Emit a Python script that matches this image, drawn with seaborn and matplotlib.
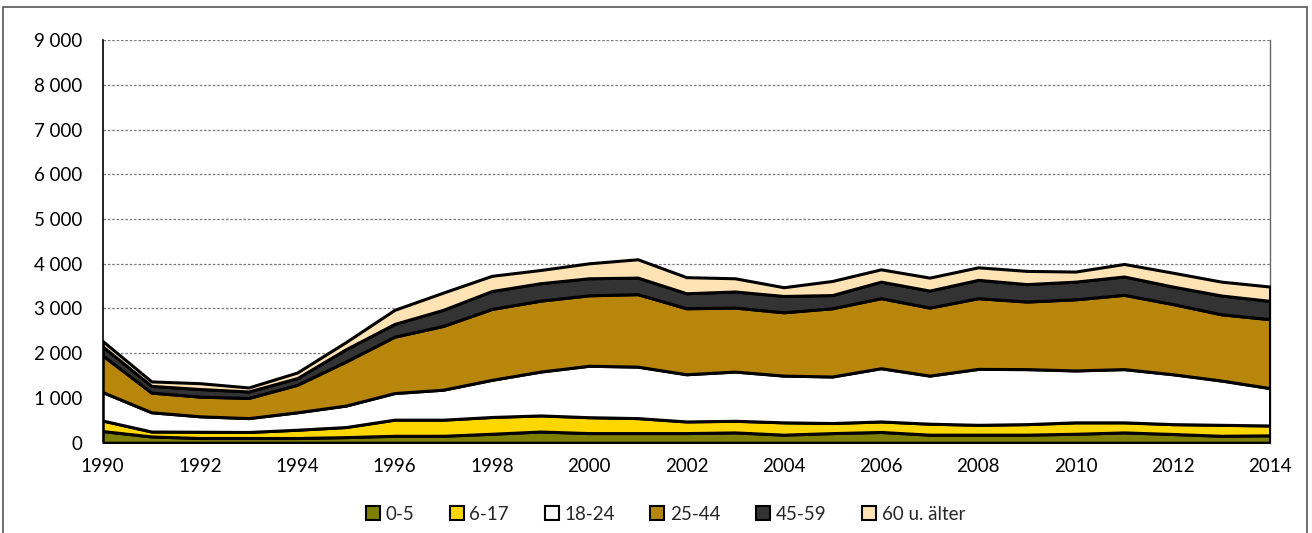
import matplotlib
matplotlib.use("Agg")
import matplotlib.pyplot as plt
import matplotlib.ticker as mticker
from matplotlib.patches import Rectangle
import seaborn as sns
import numpy as np

years = list(range(1990, 2015))
age_0_5 = [260, 140, 105, 105, 105, 125, 155, 155, 200, 250, 215, 215, 215, 230, 180, 215, 240, 180, 180, 180, 200, 230, 195, 155, 165]
age_6_17 = [235, 110, 140, 135, 185, 225, 360, 360, 375, 360, 355, 335, 260, 260, 275, 225, 235, 245, 220, 235, 255, 225, 220, 245, 220]
age_18_24 = [635, 430, 345, 310, 390, 480, 595, 670, 830, 980, 1150, 1150, 1055, 1100, 1045, 1040, 1190, 1075, 1250, 1230, 1160, 1190, 1115, 990, 835]
age_25_44 = [820, 440, 440, 450, 615, 985, 1260, 1425, 1585, 1585, 1575, 1620, 1475, 1430, 1415, 1525, 1565, 1520, 1580, 1510, 1590, 1660, 1570, 1480, 1540]
age_45_59 = [200, 150, 170, 145, 150, 275, 285, 360, 400, 390, 380, 370, 335, 360, 365, 295, 370, 380, 410, 390, 395, 410, 390, 420, 410]
age_60 = [120, 100, 130, 90, 125, 160, 315, 385, 340, 295, 335, 410, 360, 295, 195, 315, 275, 290, 280, 295, 225, 280, 310, 310, 320]

series_labels = ["0-5", "6-17", "18-24", "25-44", "45-59", "60 u. älter"]
series_colors = ["#808000", "#FFD700", "#FFFFFF", "#B8860B", "#333333", "#FFE3B5"]

sns.set_theme(style="white")
plt.rcParams["font.family"] = ["Lato", "DejaVu Sans"]

fig = plt.figure(figsize=(13.12, 5.33), dpi=100)
ax = fig.add_axes([0.0783, 0.1694, 0.8897, 0.7555])

# outer border
fig.patches.append(Rectangle((3 / 1312, -0.02), (1307 - 3) / 1312, 1.02 - 7 / 533,
                             transform=fig.transFigure, fill=False,
                             edgecolor="#555555", linewidth=1.2))

polys = ax.stackplot(years, age_0_5, age_6_17, age_18_24, age_25_44, age_45_59, age_60,
                     colors=series_colors, labels=series_labels,
                     edgecolor="black", linewidth=2.2, zorder=3)

ax.set_xlim(1990, 2014)
ax.set_ylim(0, 9000)

ax.set_yticks(np.arange(0, 9001, 1000))
ax.yaxis.set_major_formatter(mticker.FuncFormatter(lambda v, p: f"{int(v):,}".replace(",", " ")))
ax.set_xticks(years)
ax.set_xticklabels([str(y) if y % 2 == 0 else "" for y in years])

ax.grid(axis="y", color="#777777", linestyle=(0, (2, 1.5)), linewidth=0.9, zorder=0)
ax.grid(axis="x", visible=False)
ax.set_axisbelow(True)

ax.spines["top"].set_visible(False)
ax.spines["left"].set_color("black")
ax.spines["left"].set_linewidth(1.2)
ax.spines["bottom"].set_color("#888888")
ax.spines["bottom"].set_linewidth(1.2)
ax.spines["right"].set_color("#666666")
ax.spines["right"].set_linewidth(1.0)

ax.tick_params(axis="both", which="major", direction="out", length=5, width=1,
               color="#888888", labelsize=13.5, labelcolor="black")
ax.tick_params(axis="x", pad=6)
ax.tick_params(axis="y", pad=10)

leg = ax.legend(loc="upper center", bbox_to_anchor=(0.482, -0.115), ncol=6, frameon=False,
                fontsize=13.5, handlelength=0.75, handleheight=0.75, handletextpad=0.3,
                columnspacing=1.9)
for h in leg.legend_handles:
    h.set_edgecolor("black")
    h.set_linewidth(1.5)

fig.savefig("out.png", dpi=100)
